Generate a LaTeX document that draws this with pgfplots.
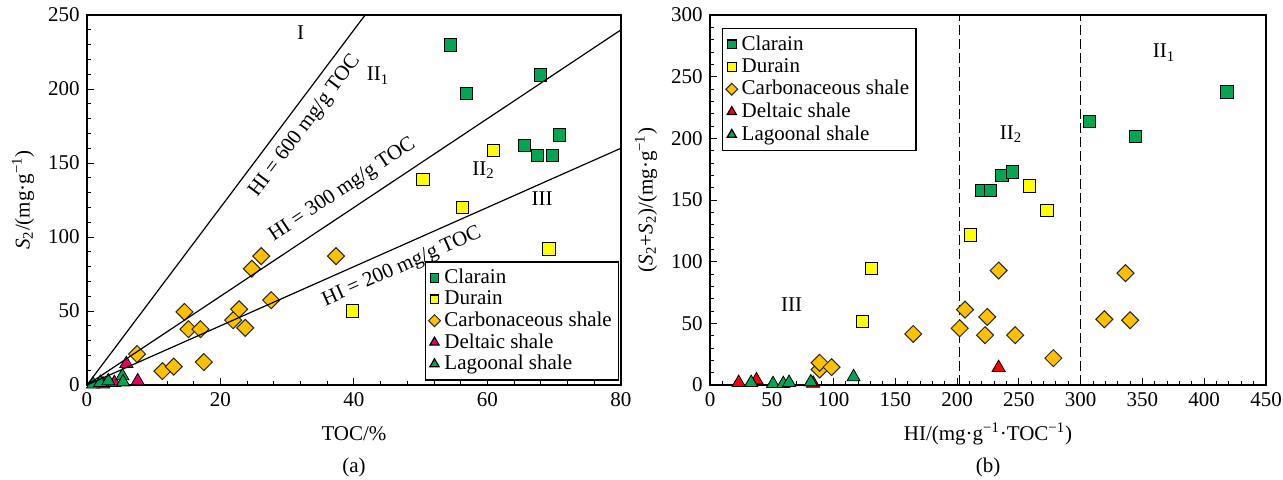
\documentclass[border=0pt]{standalone}
\usepackage{fontspec}
\setmainfont{Liberation Serif}
\usepackage{pgfplots}
\pgfplotsset{compat=1.18}
\definecolor{clar}{RGB}{0,166,81}
\definecolor{dur}{RGB}{255,255,0}
\definecolor{carb}{RGB}{255,192,0}
\definecolor{delA}{RGB}{230,0,92}
\definecolor{delB}{RGB}{255,0,0}
\definecolor{lag}{RGB}{0,166,81}
\newcommand{\fs}{\fontsize{10.5}{12}\selectfont}
\pgfplotsset{
  base/.style={
    scale only axis, height=185pt,
    tick pos=left, tick align=inside,
    major tick length=3.5pt, minor tick length=2pt,
    axis line style={line width=0.6pt}, every tick/.style={black, line width=0.5pt},
    clip mode=individual,
    /pgf/number format/assume math mode=true,
    tick label style={font=\fs\rmfamily},
    label style={font=\fs},
    every axis y label/.style={at={(axis description cs:0,0.5)}, xshift=-32pt, rotate=90, anchor=center},
    every axis x label/.style={at={(axis description cs:0.5,0)}, yshift=-24.5pt, anchor=center},
    legend cell align=left,
    legend image post style={scale=0.7},
    legend style={font=\fs, draw=black, line width=0.6pt, inner sep=1.5pt, row sep=-1.5pt, fill=white},
  },
  mk/.style={only marks, mark options={draw=black!85, line width=0.5pt}},
  sq/.style={mk, mark=square*, mark size=3.1pt, fill=#1, mark options={fill=#1}},
  dm/.style={mk, mark=square*, mark size=3.0pt, mark options={fill=#1, rotate=45, draw=black!85, line width=0.5pt}},
  tr/.style={mk, mark=triangle*, mark size=3.8pt, mark options={fill=#1}},
}
\begin{document}
\fs
\begin{tikzpicture}[x=1pt,y=1pt]
\useasboundingbox (-43.5,-47) rectangle (598,192.5);
\begin{axis}[base, at={(0,0)}, anchor=south west, width=267pt,
  xmin=0, xmax=80, ymin=0, ymax=250,
  xtick={0,20,40,60,80}, minor x tick num=4,
  ytick={0,50,100,150,200,250}, minor y tick num=4,
  xlabel={TOC/\%}, ylabel={\textit{S}\textsubscript{2}/(mg·g\textsuperscript{−1})},
  legend style={at={(0.997,0.012)}, anchor=south east, row sep=-2pt}]
\addplot[sq=clar] coordinates {(54.4,229.8) (56.8,197.2) (67.9,209.6) (65.5,161.7) (67.5,155) (69.7,155) (70.8,168.9)};
\addlegendentry{Clarain}
\addplot[sq=dur] coordinates {(50.3,138.8) (60.9,158.6) (56.2,120.2) (69.2,91.9) (39.8,50.1)};
\addlegendentry{Durain}
\addplot[dm=carb] coordinates {(14.6,49.4) (15.2,37.7) (17.0,37.7) (17.5,15.5) (11.3,9.4) (13.0,12.4) (7.5,20.9) (21.9,43.8) (22.8,51.2) (23.7,38.6) (24.7,78.6) (26.1,87.1) (27.6,57.3) (37.3,87.1)};
\addlegendentry{Carbonaceous shale}
\addplot[tr=delA] coordinates {(5.9,14.4) (4.1,1.5) (7.6,2.7) (2.4,0.6)};
\addlegendentry{Deltaic shale}
\addplot[tr=lag] coordinates {(0.9,0.5) (2.0,1.6) (3.2,2.7) (5.3,6.1) (5.4,2.0)};
\addlegendentry{Lagoonal shale}
\addplot[black, line width=0.6pt, forget plot] coordinates {(0,0) (41.667,250)} node[pos=0.73, sloped, below=1pt, font=\fs] {HI = 600 mg/g TOC};
\addplot[black, line width=0.6pt, forget plot] coordinates {(0,0) (80,240)} node[pos=0.5, sloped, above=2pt, font=\fs] {HI = 300 mg/g TOC};
\addplot[black, line width=0.6pt, forget plot] coordinates {(0,0) (80,160)} node[pos=0.575, sloped, below=1.5pt, font=\fs] {HI = 200 mg/g TOC};
\node[font=\fs] at (axis cs:32,238) {I};
\node[font=\fs] at (axis cs:43.6,209) {II\textsubscript{1}};
\node[font=\fs] at (axis cs:59.4,145) {II\textsubscript{2}};
\node[font=\fs] at (axis cs:68.2,126) {III};
\node[font=\fs] at (axis description cs:0.5,0) [yshift=-41pt] {(a)};
\end{axis}
\begin{axis}[base, at={(311.5pt,0)}, anchor=south west, width=278pt,
  xmin=0, xmax=450, ymin=0, ymax=300,
  xtick={0,50,...,450}, minor x tick num=4,
  ytick={0,50,...,300}, minor y tick num=4,
  xlabel={HI/(mg·g\textsuperscript{−1}·TOC\textsuperscript{−1})},
  ylabel={(\textit{S}\textsubscript{2}+\textit{S}\textsubscript{2})/(mg·g\textsuperscript{−1})},
  legend style={at={(0.022,0.965)}, anchor=north west}]
\addplot[black, dash pattern=on 5pt off 2pt, line width=0.6pt, forget plot] coordinates {(202,0) (202,300)};
\addplot[black, dash pattern=on 5pt off 2pt, line width=0.6pt, forget plot] coordinates {(300,0) (300,300)};
\addplot[sq=clar] coordinates {(418.5,237.8) (306.9,213.6) (344.2,201.5) (236.3,170.0) (244.9,172.7) (219.5,157.7) (226.8,157.7)};
\addlegendentry{Clarain}
\addplot[sq=dur] coordinates {(258.3,161.4) (272.7,141.8) (210.6,121.6) (130.8,94.4) (123.2,51.7)};
\addlegendentry{Durain}
\addplot[dm=carb] coordinates {(233.6,92.8) (336.3,90.7) (206.4,61.1) (224.4,55.2) (202.1,46.0) (164.5,41.4) (222.6,40.4) (247.0,40.4) (319.2,53.3) (340.0,52.5) (277.9,21.8) (88.7,12.6) (88.7,18.0) (98.4,14.5)};
\addlegendentry{Carbonaceous shale}
\addplot[tr=delB] coordinates {(233.6,14.0) (23.2,1.9) (37.6,4.0) (83.5,1.3)};
\addlegendentry{Deltaic shale}
\addplot[tr=lag] coordinates {(33.3,1.9) (51,1) (59.3,1) (64,1.9) (81.6,2.4) (116.2,6.5)};
\addlegendentry{Lagoonal shale}
\node[font=\fs] at (axis cs:66,65) {III};
\node[font=\fs] at (axis cs:243.7,203.7) {II\textsubscript{2}};
\node[font=\fs] at (axis cs:367.5,269.6) {II\textsubscript{1}};
\node[font=\fs] at (axis description cs:0.5,0) [yshift=-41pt] {(b)};
\end{axis}
\end{tikzpicture}
\end{document}
